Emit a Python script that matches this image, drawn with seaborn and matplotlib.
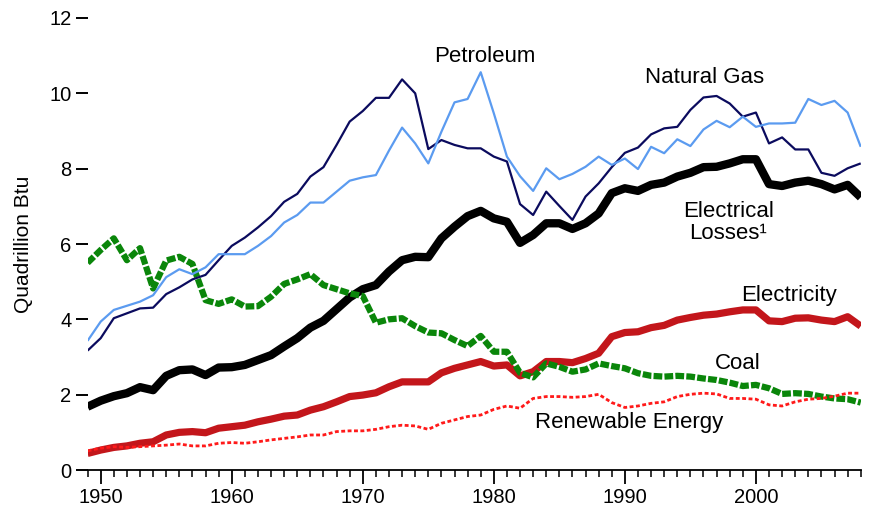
import numpy as np
import pandas as pd
import matplotlib
matplotlib.use('Agg')
import matplotlib.pyplot as plt
from matplotlib.ticker import MultipleLocator
import seaborn as sns

years = list(range(1949, 2009))

natural_gas = [3.17, 3.50, 4.03, 4.16, 4.29, 4.31, 4.67, 4.85, 5.06, 5.18,
               5.57, 5.95, 6.17, 6.44, 6.74, 7.12, 7.33, 7.79, 8.04, 8.63,
               9.25, 9.53, 9.88, 9.88, 10.37, 10.00, 8.52, 8.76, 8.63, 8.54,
               8.54, 8.32, 8.19, 7.06, 6.77, 7.39, 7.01, 6.64, 7.26, 7.61,
               8.04, 8.42, 8.56, 8.91, 9.07, 9.11, 9.56, 9.89, 9.93, 9.73,
               9.38, 9.49, 8.67, 8.83, 8.51, 8.51, 7.89, 7.81, 8.01, 8.14]

petroleum = [3.43, 3.94, 4.25, 4.36, 4.47, 4.64, 5.12, 5.33, 5.20, 5.38,
             5.73, 5.73, 5.73, 5.95, 6.21, 6.57, 6.77, 7.10, 7.10, 7.39,
             7.68, 7.77, 7.83, 8.48, 9.09, 8.67, 8.14, 8.98, 9.76, 9.85,
             10.56, 9.47, 8.32, 7.80, 7.41, 8.01, 7.72, 7.86, 8.05, 8.32,
             8.10, 8.27, 7.99, 8.58, 8.41, 8.78, 8.60, 9.04, 9.27, 9.10,
             9.38, 9.11, 9.20, 9.20, 9.22, 9.85, 9.69, 9.80, 9.49, 8.58]

electrical_losses = [1.68, 1.84, 1.96, 2.04, 2.20, 2.12, 2.50, 2.65, 2.67, 2.52,
                     2.72, 2.73, 2.79, 2.92, 3.05, 3.28, 3.50, 3.78, 3.96, 4.27,
                     4.58, 4.80, 4.91, 5.27, 5.57, 5.66, 5.65, 6.15, 6.46, 6.74,
                     6.88, 6.68, 6.59, 6.03, 6.24, 6.55, 6.55, 6.40, 6.55, 6.81,
                     7.35, 7.48, 7.41, 7.57, 7.63, 7.79, 7.89, 8.04, 8.05, 8.14,
                     8.25, 8.25, 7.59, 7.54, 7.63, 7.68, 7.59, 7.45, 7.57, 7.24]

electricity = [0.44, 0.53, 0.60, 0.64, 0.71, 0.75, 0.93, 1.00, 1.02, 0.99,
               1.11, 1.15, 1.19, 1.28, 1.35, 1.43, 1.46, 1.59, 1.68, 1.81,
               1.95, 1.99, 2.05, 2.21, 2.34, 2.34, 2.34, 2.58, 2.70, 2.79,
               2.88, 2.76, 2.79, 2.50, 2.61, 2.88, 2.88, 2.85, 2.96, 3.10,
               3.54, 3.65, 3.67, 3.78, 3.84, 3.98, 4.05, 4.11, 4.14, 4.20,
               4.25, 4.25, 3.96, 3.94, 4.03, 4.04, 3.98, 3.94, 4.07, 3.82]

coal = [5.50, 5.84, 6.15, 5.57, 5.89, 4.82, 5.56, 5.66, 5.47, 4.51,
        4.41, 4.53, 4.34, 4.35, 4.60, 4.94, 5.06, 5.20, 4.91, 4.80,
        4.69, 4.62, 3.91, 4.00, 4.03, 3.82, 3.65, 3.63, 3.45, 3.29,
        3.56, 3.14, 3.14, 2.58, 2.46, 2.83, 2.74, 2.61, 2.67, 2.83,
        2.76, 2.70, 2.57, 2.50, 2.48, 2.50, 2.48, 2.43, 2.39, 2.32,
        2.23, 2.26, 2.17, 2.02, 2.04, 2.02, 1.95, 1.90, 1.88, 1.79]

renewable = [0.51, 0.58, 0.62, 0.60, 0.62, 0.64, 0.66, 0.69, 0.64, 0.64,
             0.71, 0.73, 0.71, 0.75, 0.80, 0.84, 0.88, 0.93, 0.93, 1.02,
             1.04, 1.04, 1.08, 1.15, 1.19, 1.17, 1.08, 1.24, 1.33, 1.42,
             1.46, 1.61, 1.70, 1.64, 1.90, 1.95, 1.95, 1.93, 1.95, 2.01,
             1.79, 1.66, 1.70, 1.77, 1.81, 1.95, 2.01, 2.04, 2.02, 1.90,
             1.90, 1.88, 1.73, 1.70, 1.81, 1.88, 1.90, 1.96, 2.04, 2.04]

df = pd.DataFrame({
    'Year': years,
    'Electrical Losses': electrical_losses,
    'Electricity': electricity,
    'Coal': coal,
    'Renewable Energy': renewable,
    'Natural Gas': natural_gas,
    'Petroleum': petroleum,
})

sns.set_style('white')
plt.rcParams['font.family'] = ['Liberation Sans', 'DejaVu Sans']
plt.rcParams['text.color'] = 'black'
plt.rcParams['axes.labelcolor'] = 'black'
plt.rcParams['xtick.color'] = 'black'
plt.rcParams['ytick.color'] = 'black'

fig = plt.figure(figsize=(8.75, 5.11), dpi=100)
ax = fig.add_axes([0.1001, 0.0802, 0.8836, 0.8846])

styles = {
    'Electrical Losses': dict(color='black', lw=6.0, linestyle='-'),
    'Electricity': dict(color='#c3161b', lw=5.2, linestyle='-'),
    'Coal': dict(color='#0a860a', lw=4.5, linestyle=(0, (1.4, 0.35))),
    'Renewable Energy': dict(color='#ff1a1a', lw=2.0, linestyle=(0, (1.4, 0.9))),
    'Natural Gas': dict(color='#0b0b5e', lw=1.6, linestyle='-'),
    'Petroleum': dict(color='#5b9bf0', lw=1.6, linestyle='-'),
}

for name, st in styles.items():
    sns.lineplot(data=df, x='Year', y=name, ax=ax, solid_capstyle='butt',
                 dash_capstyle='butt', **st)

ax.set_xlim(1949, 2008)
ax.set_ylim(0, 12)
ax.xaxis.set_major_locator(MultipleLocator(10))
ax.xaxis.set_minor_locator(MultipleLocator(1))
ax.yaxis.set_major_locator(MultipleLocator(2))

for s in ['top', 'right', 'left']:
    ax.spines[s].set_visible(False)
ax.spines['bottom'].set_linewidth(1.3)
ax.spines['bottom'].set_color('black')

ax.tick_params(axis='x', which='major', direction='out', length=10, width=1.3,
               pad=3, labelsize=14.5, bottom=True, colors='black')
ax.tick_params(axis='x', which='minor', direction='out', length=5, width=1.1,
               bottom=True, colors='black')
ax.tick_params(axis='y', which='major', direction='out', length=8.6, width=1.4,
               pad=3, labelsize=14.5, left=True, colors='black')

ax.set_xlabel('')
ax.set_ylabel('Quadrillion Btu', fontsize=15)
ax.yaxis.set_label_coords(-0.070, 0.5)

fs = 16
ax.text(1979.3, 10.99, 'Petroleum', ha='center', va='center', fontsize=fs)
ax.text(1996.1, 10.43, 'Natural Gas', ha='center', va='center', fontsize=fs)
ax.text(1997.9, 6.58, 'Electrical\nLosses\u00b9', ha='center', va='center',
        fontsize=fs, linespacing=1.05)
ax.text(2002.5, 4.62, 'Electricity', ha='center', va='center', fontsize=fs)
ax.text(1998.6, 2.84, 'Coal', ha='center', va='center', fontsize=fs)
ax.text(1990.3, 1.25, 'Renewable Energy', ha='center', va='center', fontsize=fs)

fig.savefig('out.png', dpi=100)
